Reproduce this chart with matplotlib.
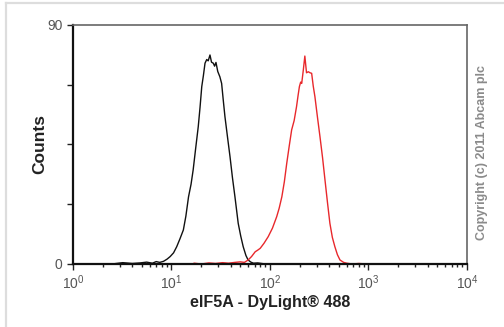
import matplotlib
matplotlib.use("Agg")
import matplotlib.pyplot as plt
from matplotlib.lines import Line2D

plt.rcParams['font.family'] = ['Liberation Sans', 'DejaVu Sans']
plt.rcParams['mathtext.fontset'] = 'custom'
plt.rcParams['mathtext.rm'] = 'Liberation Sans'
plt.rcParams['mathtext.it'] = 'Liberation Sans'

# isotype control (black)
control_x = [2.5, 3.2, 4.0, 4.8, 5.6, 6.4, 7.0, 7.6, 8.3, 9.0, 9.7, 10.5, 11.3, 12.2,
             13.2, 14.0, 14.9, 15.8, 16.6, 17.6, 18.7, 19.5, 20.3, 21.1, 21.9, 22.8,
             23.6, 24.6, 25.5, 26.6, 27.4, 28.3, 29.5, 31.0, 32.3, 33.6, 34.9, 37.0,
             39.3, 41.6, 44.1, 47.6, 50.5, 53.5, 57.0, 60.0, 64.0, 68.0, 75.0, 90.0]
control_y = [0.0, 0.5, 0.2, 0.4, 0.7, 0.3, 0.9, 0.6, 1.0, 1.8, 2.8, 4.2, 6.5, 9.5,
             12.8, 18.0, 25.3, 30.0, 35.4, 43.5, 51.7, 59.0, 66.8, 71.0, 75.6, 77.0,
             76.5, 78.7, 76.0, 75.6, 74.5, 75.9, 72.5, 70.5, 68.0, 61.5, 55.5, 48.0,
             40.4, 32.5, 25.3, 15.3, 10.5, 6.5, 3.2, 1.5, 0.7, 0.3, 0.4, 0.0]

# eIF5A - DyLight 488 (red)
sample_x = [17.0, 20.0, 24.0, 28.0, 33.0, 38.0, 44.0, 50.0, 55.0, 60.0, 65.0, 70.8,
            75.0, 79.6, 87.0, 96.0, 106.0, 117.0, 124.0, 132.0, 140.0, 148.0, 157.0,
            166.0, 176.0, 186.0, 193.0, 199.0, 205.0, 210.0, 218.0, 226.0, 235.0,
            245.0, 255.0, 265.0, 275.0, 286.0, 303.0, 322.0, 342.0, 362.0, 384.0,
            406.0, 430.0, 456.0, 484.0, 514.0, 560.0, 601.0, 680.0, 800.0, 950.0]
sample_y = [0.3, 0.0, 0.4, 0.2, 0.5, 0.3, 0.6, 0.8, 0.6, 1.5, 2.8, 4.6,
            5.2, 5.9, 7.8, 10.3, 13.5, 17.8, 21.0, 25.3, 31.0, 37.9, 44.5,
            50.5, 54.0, 59.2, 63.5, 66.8, 68.5, 68.0, 73.0, 78.3, 72.0,
            72.4, 72.0, 71.8, 67.0, 63.0, 55.5, 47.9, 40.0, 31.6, 23.0,
            15.3, 10.0, 6.5, 3.5, 1.5, 0.6, 0.3, 0.0, 0.2, 0.0]

xticks = [1, 10, 100, 1000, 10000]
xtick_labels = ['$10^{0}$', '$10^{1}$', '$10^{2}$', '$10^{3}$', '$10^{4}$']
yticks = [0, 22.5, 45, 67.5, 90]
ytick_labels = ['0', '', '', '', '90']

fig = plt.figure(figsize=(5.04, 3.27), dpi=100)
ax = fig.add_axes([0.1448, 0.1927, 0.7817, 0.7309])

ax.plot(control_x, control_y, color='#111111', linewidth=1.0)
ax.plot(sample_x, sample_y, color='#e8282c', linewidth=1.0)

ax.set_xscale('log')
ax.set_xlim(1, 10000)
ax.set_ylim(0, 90)
ax.set_xticks(xticks)
ax.set_xticklabels(xtick_labels)
ax.set_yticks(yticks)
ax.set_yticklabels(ytick_labels)

ax.tick_params(axis='both', which='major', direction='out', length=4, width=1,
               labelsize=10, labelcolor='#555555', color='#222222')
ax.tick_params(axis='x', which='minor', direction='out', length=2.5, width=1, color='#222222')
ax.tick_params(axis='x', which='major', pad=3)

for side in ['left', 'bottom']:
    ax.spines[side].set_color('#111111')
    ax.spines[side].set_linewidth(1.6)
for side in ['top', 'right']:
    ax.spines[side].set_color('#666666')
    ax.spines[side].set_linewidth(1.2)

ax.set_xlabel('eIF5A - DyLight® 488', fontsize=11.5, fontweight='bold', color='#222222', labelpad=2)
ax.set_ylabel('Counts', fontsize=12.5, fontweight='bold', color='#222222', labelpad=0)

fig.text(0.957, 0.535, 'Copyright (c) 2011 Abcam plc', rotation=90, fontsize=9,
         fontweight='bold', color='#8a8a8a', ha='center', va='center')

# light frame around the picture
fig.add_artist(Line2D([0.012, 1.0], [0.991, 0.991], transform=fig.transFigure,
                      color='#dddddd', linewidth=1.6))
fig.add_artist(Line2D([0.012, 0.012], [0.0, 0.991], transform=fig.transFigure,
                      color='#dddddd', linewidth=1.6))

fig.savefig('out.png', dpi=100)
